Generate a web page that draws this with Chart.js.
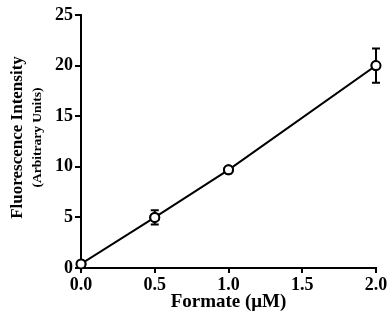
<!DOCTYPE html>
<html>
<head>
<meta charset="utf-8">
<script src="https://cdn.jsdelivr.net/npm/chart.js@4"></script>
<style>
  html, body { margin: 0; padding: 0; background: #fff; }
  #wrap { width: 391px; height: 321px; }
</style>
</head>
<body>
<div id="wrap"><canvas id="chart" width="391" height="321"></canvas></div>
<script>
// data
const formate = [0, 0.5, 1.0, 2.0];
const intensity = [0.4, 5.0, 9.7, 20.0];
const errors = [0, 0.7, 0, 1.7];
const xTicks = [0, 0.5, 1.0, 1.5, 2.0];
const yTicks = [0, 5, 10, 15, 20, 25];

const serif = "'Liberation Serif', 'Times New Roman', serif";

// error bars + two-line y title
const extras = {
  id: "extras",
  afterDatasetsDraw(chart) {
    const ctx = chart.ctx, x = chart.scales.x, y = chart.scales.y;
    ctx.save();
    ctx.strokeStyle = "#000"; ctx.lineWidth = 2;
    formate.forEach((f, i) => {
      if (!errors[i]) return;
      const px = x.getPixelForValue(f);
      const top = y.getPixelForValue(intensity[i] + errors[i]);
      const bot = y.getPixelForValue(intensity[i] - errors[i]);
      ctx.beginPath();
      ctx.moveTo(px, top); ctx.lineTo(px, bot);
      ctx.moveTo(px - 4, top); ctx.lineTo(px + 4, top);
      ctx.moveTo(px - 4, bot); ctx.lineTo(px + 4, bot);
      ctx.stroke();
    });
    ctx.restore();
    // redraw markers over the bars
    chart.getDatasetMeta(0).data.forEach(p => p.draw(ctx));
  },
  afterDraw(chart) {
    const ctx = chart.ctx, a = chart.chartArea;
    const cy = (a.top + a.bottom) / 2 - 4;
    ctx.save();
    ctx.fillStyle = "#000"; ctx.textAlign = "center"; ctx.textBaseline = "middle";
    ctx.translate(18, cy); ctx.rotate(-Math.PI / 2);
    ctx.font = "bold 17px " + serif;
    ctx.fillText("Fluorescence Intensity", 0, 0);
    ctx.font = "bold 13.5px " + serif;
    ctx.fillText("(Arbitrary Units)", 0, 20);
    ctx.restore();
  }
};

new Chart(document.getElementById("chart"), {
  type: "line",
  data: {
    datasets: [{
      data: formate.map((f, i) => ({ x: f, y: intensity[i] })),
      borderColor: "#000", borderWidth: 2,
      pointRadius: 4.5, pointBorderWidth: 2,
      pointBackgroundColor: "#fff", pointBorderColor: "#000",
      tension: 0
    }]
  },
  options: {
    responsive: false, animation: false,
    layout: { padding: { top: 15, right: 15, left: 0, bottom: 0 } },
    plugins: { legend: { display: false }, tooltip: { enabled: false } },
    scales: {
      x: {
        type: "linear", min: 0, max: 2,
        afterBuildTicks: s => { s.ticks = xTicks.map(v => ({ value: v })); },
        afterFit: s => { s.height = 53; },
        border: { color: "#000", width: 2 },
        grid: { drawOnChartArea: false, color: "#000", lineWidth: 2, tickLength: 5 },
        ticks: { color: "#000", font: { family: serif, size: 18, weight: "bold" }, padding: 2,
          callback: v => v.toFixed(1) },
        title: { display: true, text: "Formate (\u03bcM)", color: "#000",
          font: { family: serif, size: 19, weight: "bold" }, padding: { top: 0, bottom: 8 } }
      },
      y: {
        type: "linear", min: 0, max: 25,
        afterBuildTicks: s => { s.ticks = yTicks.map(v => ({ value: v })); },
        afterFit: s => { s.width = 81; },
        border: { color: "#000", width: 2 },
        grid: { drawOnChartArea: false, color: "#000", lineWidth: 2, tickLength: 6 },
        ticks: { color: "#000", font: { family: serif, size: 18, weight: "bold" }, padding: 2 }
      }
    }
  },
  plugins: [extras]
});
</script>
</body>
</html>
